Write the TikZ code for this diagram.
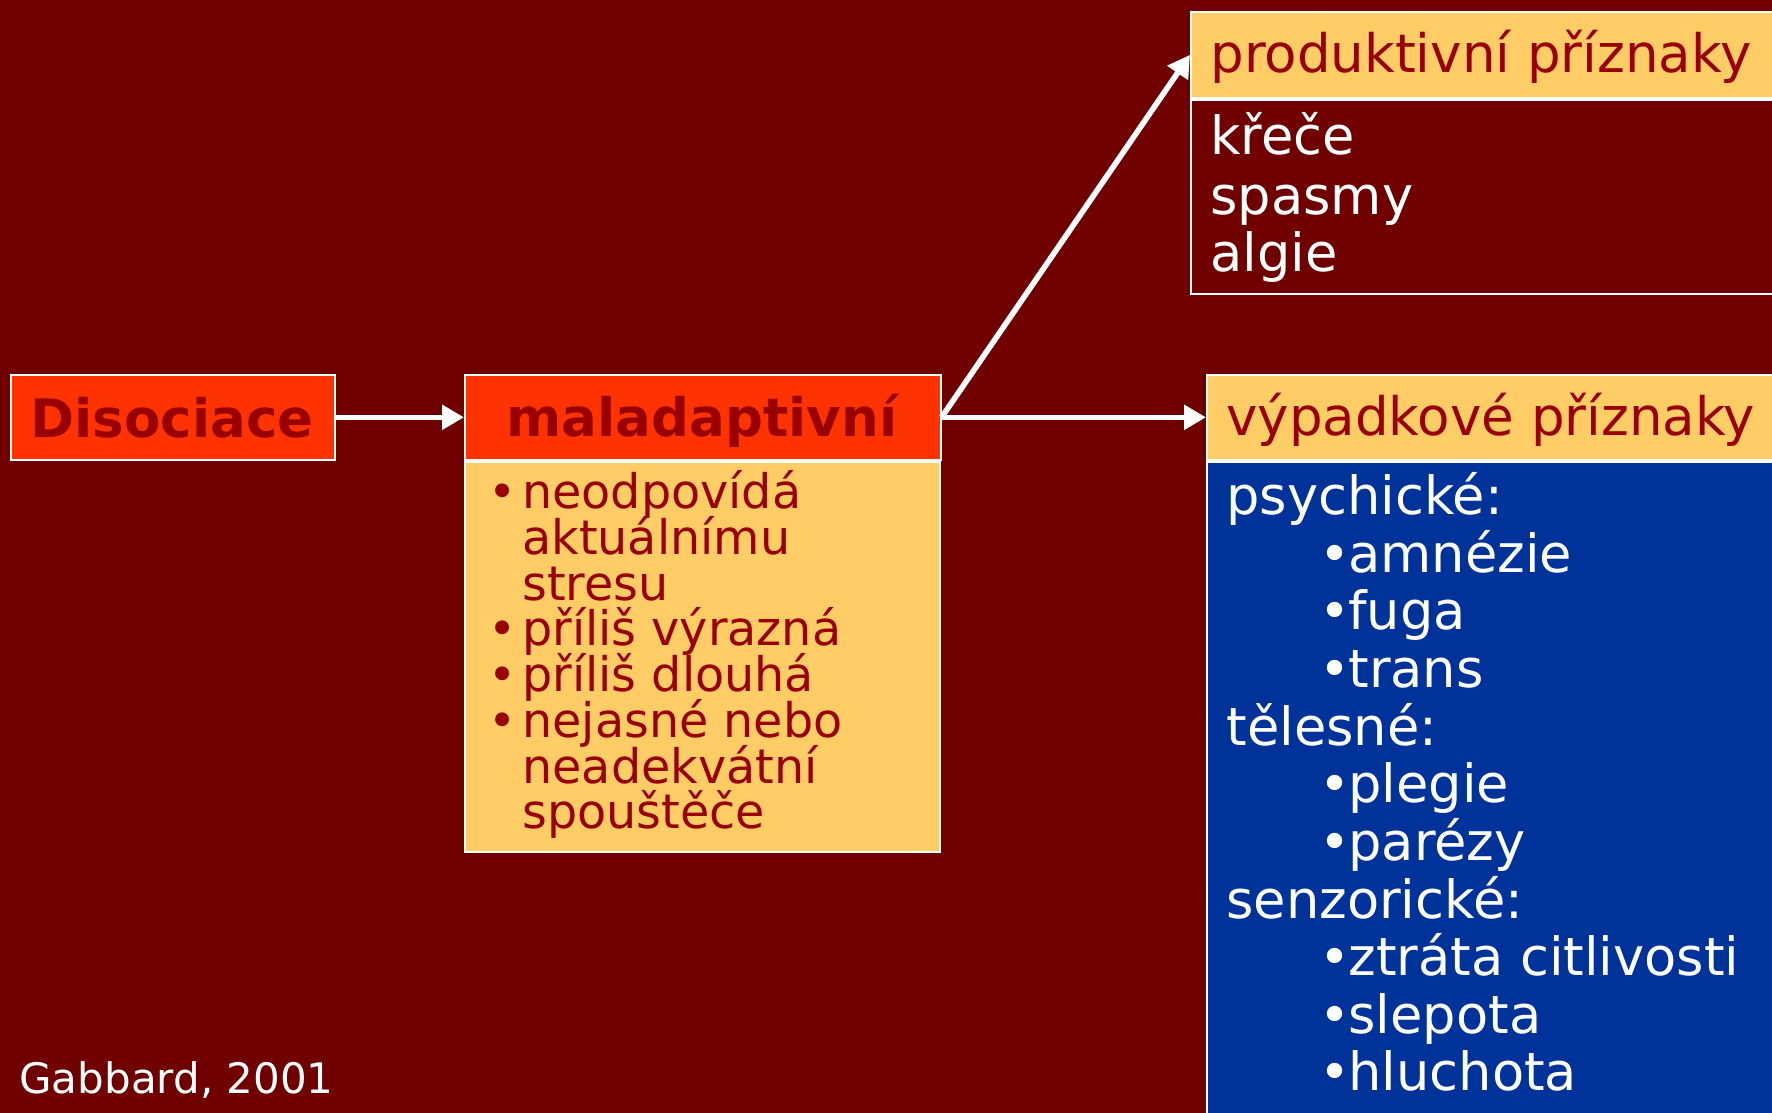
\documentclass[tikz,border=0pt]{standalone}
\usepackage{fontspec}
\setmainfont{DejaVu Sans}
\usetikzlibrary{arrows.meta}
\definecolor{bgred}{HTML}{700000}
\definecolor{redbox}{HTML}{FF3300}
\definecolor{dred}{HTML}{990000}
\definecolor{yel}{HTML}{FFCC66}
\definecolor{blu}{HTML}{003399}
\tikzset{
  boxst/.style={draw=white, line width=0.8pt, rectangle, inner sep=0pt, anchor=north west},
  txt/.style={inner sep=0pt, anchor=base west},
  arr/.style={draw=white, line width=2.8pt, -{Triangle[length=11pt,width=12pt]}},
  bigbold/.style={font=\fontsize{26.5}{30}\selectfont\bfseries, text=dred},
  listf/.style={font=\fontsize{23.8}{26}\selectfont, text=dred},
  bluef/.style={font=\fontsize{26.3}{30}\selectfont, text=white},
  headf/.style={font=\fontsize{26.5}{30}\selectfont, text=dred}
}
\begin{document}
\begin{tikzpicture}[x=0.5pt,y=-0.5pt]
\fill[bgred] (0,0) rectangle (1772,1113);
\useasboundingbox (0,0) rectangle (1772,1113);

% boxes
\node[boxst, fill=redbox, minimum width=162pt, minimum height=42.5pt] (dis) at (10,374) {};
\node[boxst, fill=redbox, minimum width=238pt, minimum height=42.5pt] (mal) at (464,374) {};
\node[boxst, fill=yel, minimum width=237.5pt, minimum height=195pt] (list) at (464,461) {};
\node[boxst, fill=yel, minimum width=295pt, minimum height=43pt] (prodh) at (1190,11) {};
\node[boxst, fill=bgred, minimum width=295pt, minimum height=97pt] (prodb) at (1190,99) {};
\node[boxst, fill=yel, minimum width=287pt, minimum height=42.5pt] (vyph) at (1206,374) {};
\node[boxst, fill=blu, minimum width=287pt, minimum height=330pt] (vypb) at (1206,461) {};

% titles
\node[inner sep=0pt, anchor=base, bigbold] (distxt) at (172,437) {Disociace};
\node[inner sep=0pt, anchor=base, bigbold] (maltxt) at (702,436) {maladaptivní};
\node[txt, headf] (prodtxt) at (1210,73) {produktivní příznaky};
\node[txt, headf] (vyptxt) at (1226,435) {výpadkové příznaky};

% yellow list
\foreach \y/\b/\t [count=\i] in {
  508/•/neodpovídá, 554//aktuálnímu, 600//stresu,
  645/•/příliš výrazná, 691/•/příliš dlouhá,
  737/•/nejasné nebo, 783//neadekvátní, 828//spouštěče}{
  \node[txt, listf] (lb\i) at (488,\y) {\b};
  \node[txt, listf] (lt\i) at (522,\y) {\t};
}

% productive body
\foreach \y/\t [count=\i] in {155/křeče, 214/spasmy, 271/algie}{
  \node[txt, bluef] (pb\i) at (1210,\y) {\t};
}

% blue body
\foreach \y/\t [count=\i] in {514/psychické:, 745/tělesné:, 918/senzorické:}{
  \node[txt, bluef] (bh\i) at (1226,\y) {\t};
}
\foreach \y/\t [count=\i] in {572/amnézie, 629/fuga, 687/trans, 802/plegie, 860/parézy,
  975/ztráta citlivosti, 1033/slepota, 1090/hluchota}{
  \node[txt, bluef] (bb\i) at (1319,\y) {•\kern-1pt\t};
}

% citation
\node[txt, font=\fontsize{21}{24}\selectfont, text=white] (cite) at (19,1093) {Gabbard, 2001};

% arrows
\draw[arr] (dis.east) -- (mal.west);
\draw[arr] (mal.east) -- (prodh.west);
\draw[arr] (mal.east) -- (vyph.west);
\end{tikzpicture}
\end{document}
